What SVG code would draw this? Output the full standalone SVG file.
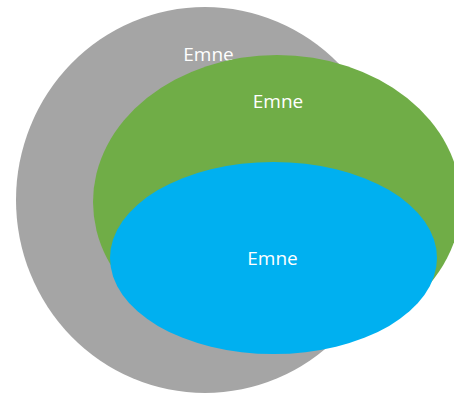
<svg xmlns="http://www.w3.org/2000/svg" width="454" height="394" viewBox="0 0 454 394">
<style>
text{font-family:"Open Sans","Noto Sans",sans-serif;font-size:19px;fill:#FFFFFF;text-anchor:middle}
</style>
<rect width="454" height="394" fill="#FFFFFF"/>
<g id="outer">
<ellipse cx="205" cy="200" rx="189" ry="193" fill="#A5A5A5"/>
<text x="208.5" y="61">Emne</text>
</g>
<g id="middle">
<ellipse cx="277" cy="202" rx="184" ry="147" fill="#70AD47"/>
<text x="278" y="108">Emne</text>
</g>
<g id="inner">
<ellipse cx="273.5" cy="258" rx="163.5" ry="96" fill="#00B0F0"/>
<text x="272.5" y="265">Emne</text>
</g>
<g id="connectors"/>
</svg>
